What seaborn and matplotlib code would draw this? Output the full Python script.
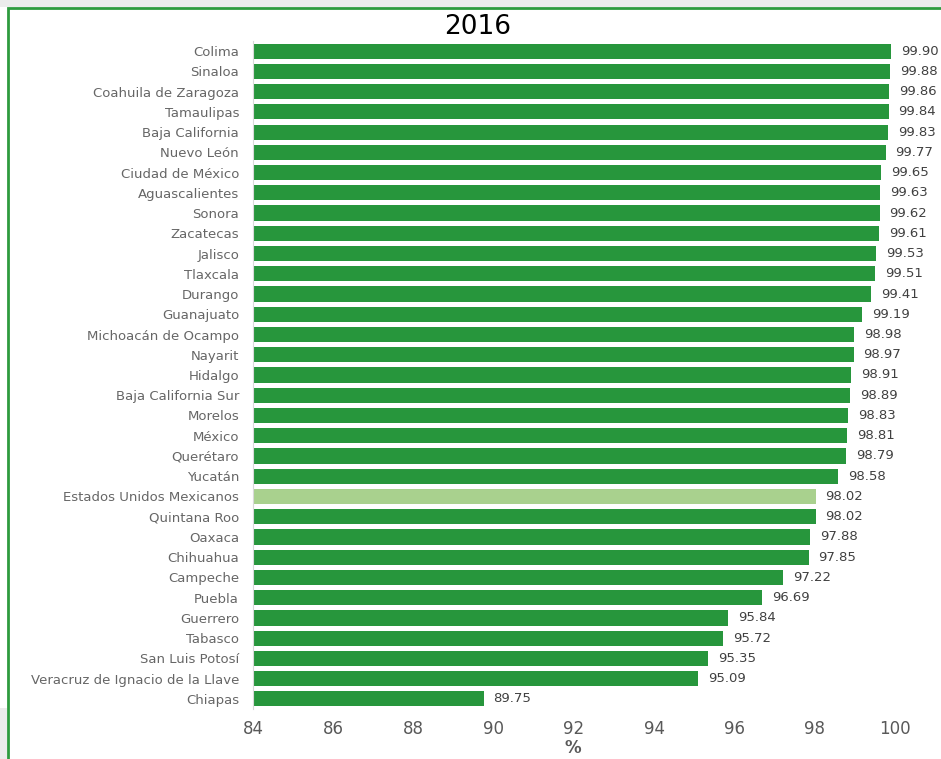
import matplotlib
matplotlib.use("Agg")
import matplotlib.pyplot as plt
import seaborn as sns
import pandas as pd
from matplotlib.patches import Rectangle

estados = ["Colima", "Sinaloa", "Coahuila de Zaragoza", "Tamaulipas", "Baja California",
           "Nuevo León", "Ciudad de México", "Aguascalientes", "Sonora", "Zacatecas",
           "Jalisco", "Tlaxcala", "Durango", "Guanajuato", "Michoacán de Ocampo",
           "Nayarit", "Hidalgo", "Baja California Sur", "Morelos", "México",
           "Querétaro", "Yucatán", "Estados Unidos Mexicanos", "Quintana Roo", "Oaxaca",
           "Chihuahua", "Campeche", "Puebla", "Guerrero", "Tabasco",
           "San Luis Potosí", "Veracruz de Ignacio de la Llave", "Chiapas"]
valores = [99.90, 99.88, 99.86, 99.84, 99.83, 99.77, 99.65, 99.63, 99.62, 99.61,
           99.53, 99.51, 99.41, 99.19, 98.98, 98.97, 98.91, 98.89, 98.83, 98.81,
           98.79, 98.58, 98.02, 98.02, 97.88, 97.85, 97.22, 96.69, 95.84, 95.72,
           95.35, 95.09, 89.75]
nacional = "Estados Unidos Mexicanos"

verde = "#27963c"
verde_claro = "#a9d18e"
gris = "#595959"

df = pd.DataFrame({"estado": estados, "valor": valores})
df["tipo"] = ["nacional" if e == nacional else "estado" for e in df["estado"]]

plt.rcParams["font.family"] = ["DejaVu Sans"]

fig = plt.figure(figsize=(9.41, 7.59), dpi=100)
fig.patch.set_facecolor("white")
# marco del cuadro
fig.patches.append(Rectangle((0, 1 - 7 / 759), 1, 7 / 759, transform=fig.transFigure,
                             facecolor="#ececec", edgecolor="none", zorder=0))
fig.patches.append(Rectangle((0, 0), 7 / 941, 51 / 759, transform=fig.transFigure,
                             facecolor="#ececec", edgecolor="none", zorder=0))
fig.patches.append(Rectangle((8 / 941, -0.05), 1.1, 1 - 8 / 759 + 0.05, transform=fig.transFigure,
                             facecolor="none", edgecolor="#2e9b3e", lw=2, zorder=1))

ax = fig.add_axes([253 / 941, 1 - 709 / 759, (895 - 253) / 941, (709 - 41) / 759])
sns.barplot(data=df, y="estado", x="valor", hue="tipo", orient="h",
            palette={"estado": verde, "nacional": verde_claro}, dodge=False,
            legend=False, width=0.75, ax=ax, saturation=1)

for cont in ax.containers:
    ax.bar_label(cont, fmt="%.2f", padding=7, fontsize=9.5, color="#404040")

ax.set_xlim(84, 100)
ax.set_xticks(range(84, 101, 2))
ax.set_xlabel("")
ax.set_ylabel("")
ax.tick_params(axis="both", length=0)
ax.tick_params(axis="x", labelsize=12, labelcolor=gris, pad=8)
ax.tick_params(axis="y", labelsize=9.5, labelcolor="#666666", pad=10)
for s in ["top", "right", "bottom"]:
    ax.spines[s].set_visible(False)
ax.spines["left"].set_color("#d9d9d9")

fig.text(478 / 941, 1 - 27 / 759, "2016", ha="center", va="center", fontsize=19, color="black")
fig.text(573 / 941, 2 / 759, "%", ha="center", va="bottom", fontsize=12,
         fontweight="bold", color=gris)

fig.savefig("out.png", dpi=100)
